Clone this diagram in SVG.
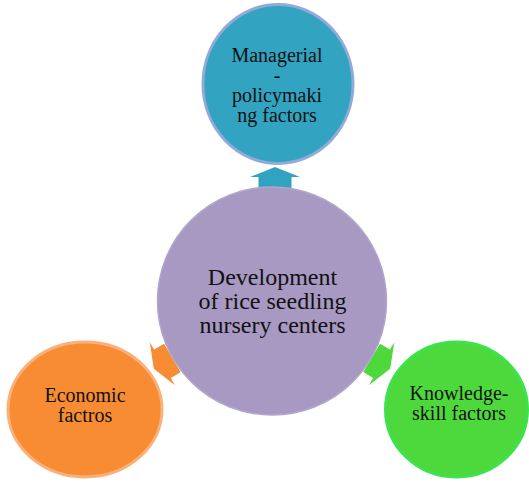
<svg xmlns="http://www.w3.org/2000/svg" width="529" height="482" viewBox="0 0 529 482">
  <defs>
    <!-- block arrow pointing up, centred on the origin -->
    <path id="blockArrow" d="M0,-9.5 L25,0.5 L16.5,0.5 L16.5,12 L-16.5,12 L-16.5,0.5 L-25,0.5 Z"/>
  </defs>
  <style>
    text { font-family: "Liberation Serif", "Times New Roman", serif; fill: #111; text-anchor: middle; }
    .big { font-size: 24px; }
    .small { font-size: 20px; }
  </style>
  <rect width="529" height="482" fill="#ffffff"/>

  <g id="connectors">
    <use href="#blockArrow" fill="#31a3c0" transform="translate(275,176.5)"/>
    <use href="#blockArrow" fill="#f78c33" transform="translate(162,364) rotate(-120.2)"/>
    <use href="#blockArrow" fill="#4dd83c" transform="translate(382,364) rotate(120.6)"/>
  </g>

  <g id="center">
    <ellipse cx="272" cy="301" rx="114.5" ry="114" fill="#a899c3" stroke="#b1a5cb" stroke-width="1.5"/>
    <text class="big" x="272.5" y="285">Development</text>
    <text class="big" x="272.5" y="309">of rice seedling</text>
    <text class="big" x="272.5" y="333">nursery centers</text>
  </g>

  <g id="managerial">
    <ellipse cx="278" cy="84" rx="75" ry="79.5" fill="#32a3c0" stroke="#93a9d8" stroke-width="3"/>
    <text class="small" x="277" y="62">Managerial</text>
    <text class="small" x="277" y="82">-</text>
    <text class="small" x="277" y="102">policymaki</text>
    <text class="small" x="277" y="122">ng factors</text>
  </g>

  <g id="economic">
    <ellipse cx="85" cy="409.5" rx="77" ry="67.5" fill="#f78c33" stroke="#f9b07a" stroke-width="3"/>
    <text class="small" x="85" y="402">Economic</text>
    <text class="small" x="85" y="422">factros</text>
  </g>

  <g id="knowledge">
    <ellipse cx="456.5" cy="409.5" rx="71" ry="67.5" fill="#4dd83c" stroke="#3de24c" stroke-width="3"/>
    <text class="small" x="459" y="400">Knowledge-</text>
    <text class="small" x="459" y="420">skill factors</text>
  </g>
</svg>
